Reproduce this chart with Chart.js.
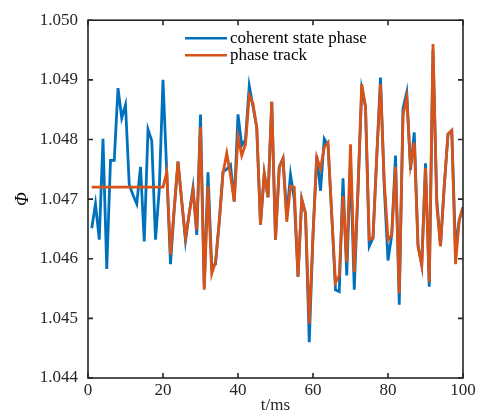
<!DOCTYPE html>
<html>
<head>
<meta charset="utf-8">
<script src="https://cdn.jsdelivr.net/npm/chart.js@4.4.1/dist/chart.umd.min.js"></script>
<style>
  html, body { margin: 0; padding: 0; background: #ffffff; }
  #wrap { width: 482px; height: 416px; }
</style>
</head>
<body>
<div id="wrap"><canvas id="c" width="482" height="416"></canvas></div>
<script>
// ---- data ----
const timeMs = [1,2,3,4,5,6,7,8,9,10,11,12,13,14,15,16,17,18,19,20,
  21,22,23,24,25,26,27,28,29,30,31,32,33,34,35,36,37,38,39,40,
  41,42,43,44,45,46,47,48,49,50,51,52,53,54,55,56,57,58,59,60,
  61,62,63,64,65,66,67,68,69,70,71,72,73,74,75,76,77,78,79,80,
  81,82,83,84,85,86,87,88,89,90,91,92,93,94,95,96,97,98,99,100];

const coherentPhase = [
  1.04651,1.04692,1.04632,1.04801,1.04583,1.04765,1.04765,1.04886,1.04836,1.04858,
  1.04724,1.04707,1.04692,1.04754,1.04629,1.04817,1.04798,1.04632,1.04716,1.04900,
  1.04745,1.04591,1.04684,1.04763,1.04696,1.04630,1.04676,1.04719,1.04640,1.04842,
  1.04552,1.04745,1.04585,1.04591,1.04662,1.04746,1.04750,1.04757,1.04696,1.04842,
  1.04790,1.04800,1.04890,1.04855,1.04820,1.04657,1.04743,1.04703,1.04863,1.04632,
  1.04754,1.04768,1.04672,1.04741,1.04700,1.04570,1.04700,1.04676,1.04460,1.04640,
  1.04773,1.04714,1.04801,1.04790,1.04673,1.04548,1.04545,1.04735,1.04572,1.04763,
  1.04548,1.04716,1.04885,1.04855,1.04621,1.04635,1.04771,1.04904,1.04720,1.04597,
  1.04640,1.04773,1.04523,1.04852,1.04879,1.04749,1.04812,1.04624,1.04589,1.04760,
  1.04553,1.04950,1.04700,1.04621,1.04722,1.04809,1.04815,1.04618,1.04665,1.04686];

const phaseTrack = [
  1.0472,1.0472,1.0472,1.0472,1.0472,1.0472,1.0472,1.0472,1.0472,1.0472,
  1.0472,1.0472,1.0472,1.0472,1.0472,1.0472,1.0472,1.0472,1.0472,1.0472,
  1.04745,1.04607,1.04684,1.04763,1.04696,1.04635,1.04676,1.04714,1.04648,1.04821,
  1.04548,1.04722,1.04575,1.04595,1.04662,1.04743,1.04777,1.04740,1.04696,1.04804,
  1.04773,1.04792,1.04874,1.04860,1.04820,1.04657,1.04743,1.04703,1.04863,1.04632,
  1.04752,1.04768,1.04662,1.04722,1.04720,1.04570,1.04700,1.04676,1.04491,1.04640,
  1.04770,1.04751,1.04787,1.04795,1.04673,1.04560,1.04572,1.04705,1.04594,1.04792,
  1.04578,1.04716,1.04893,1.04855,1.04632,1.04635,1.04771,1.04893,1.04730,1.04632,
  1.04640,1.04754,1.04542,1.04840,1.04871,1.04757,1.04795,1.04620,1.04589,1.04752,
  1.04561,1.04960,1.04690,1.04621,1.04722,1.04809,1.04815,1.04591,1.04665,1.04686];

const seriesNames = ['coherent state phase', 'phase track'];
const xTicks = [0, 20, 40, 60, 80, 100];
const yTicks = [1.044, 1.045, 1.046, 1.047, 1.048, 1.049, 1.050];
const xTitle = 't/ms';
const yTitle = 'Φ';

// ---- styling ----
const BLUE = '#0072BD';
const ORANGE = '#D95319';
const AXIS = '#262626';
const FONT = "'Liberation Serif', 'Times New Roman', serif";

function pts(ys) { return ys.map((y, i) => ({ x: timeMs[i], y: y })); }

const framePlugin = {
  id: 'frame',
  afterDraw(chart) {
    const ctx = chart.ctx;
    const a = chart.chartArea;
    const xs = chart.scales.x, ys = chart.scales.y;
    ctx.save();
    ctx.strokeStyle = AXIS;
    ctx.lineWidth = 1.6;
    ctx.strokeRect(a.left, a.top, a.right - a.left, a.bottom - a.top);
    const tl = 5;
    ctx.beginPath();
    xTicks.forEach(v => {
      const p = xs.getPixelForValue(v);
      ctx.moveTo(p, a.bottom); ctx.lineTo(p, a.bottom - tl);
      ctx.moveTo(p, a.top); ctx.lineTo(p, a.top + tl);
    });
    yTicks.forEach(v => {
      const p = ys.getPixelForValue(v);
      ctx.moveTo(a.left, p); ctx.lineTo(a.left + tl, p);
      ctx.moveTo(a.right, p); ctx.lineTo(a.right - tl, p);
    });
    ctx.stroke();

    // legend (inside the axes, upper middle)
    const lx0 = a.left + 97, lx1 = a.left + 139, tx = a.left + 142;
    const rows = [a.top + 18, a.top + 35];
    const colors = [BLUE, ORANGE];
    ctx.font = "17px " + FONT;
    ctx.textBaseline = 'middle';
    ctx.textAlign = 'left';
    rows.forEach((ry, i) => {
      ctx.strokeStyle = colors[i];
      ctx.lineWidth = 2.6;
      ctx.beginPath(); ctx.moveTo(lx0, ry); ctx.lineTo(lx1, ry); ctx.stroke();
      ctx.fillStyle = '#000';
      ctx.fillText(chart.data.datasets[i].label, tx, ry);
    });
    ctx.restore();
  }
};

new Chart(document.getElementById('c'), {
  type: 'line',
  data: {
    datasets: [
      { label: seriesNames[0], data: pts(coherentPhase), borderColor: BLUE, borderWidth: 2.8,
        pointRadius: 0, tension: 0, fill: false, order: 2 },
      { label: seriesNames[1], data: pts(phaseTrack), borderColor: ORANGE, borderWidth: 2.8,
        pointRadius: 0, tension: 0, fill: false, order: 1 }
    ]
  },
  options: {
    responsive: false,
    animation: false,
    devicePixelRatio: 1,
    layout: { padding: { top: 9, right: 19, left: 0, bottom: 0 } },
    plugins: { legend: { display: false }, tooltip: { enabled: false } },
    scales: {
      x: {
        type: 'linear', min: 0, max: 100,
        afterBuildTicks(s) { s.ticks = xTicks.map(v => ({ value: v })); },
        afterFit(s) { s.height = 38; },
        grid: { display: false, drawTicks: false },
        border: { display: false },
        ticks: { color: AXIS, font: { family: FONT, size: 17 }, padding: 2, maxRotation: 0,
                 callback: v => String(v) },
        title: { display: true, text: xTitle, color: AXIS, font: { family: FONT, size: 17 },
                 padding: { top: -2, bottom: 0 } }
      },
      y: {
        type: 'linear', min: 1.044, max: 1.050,
        afterBuildTicks(s) { s.ticks = yTicks.map(v => ({ value: v })); },
        afterFit(s) { s.width = 88; },
        grid: { display: false, drawTicks: false },
        border: { display: false },
        ticks: { color: AXIS, font: { family: FONT, size: 17 }, padding: 10,
                 callback: v => Number(v).toFixed(3) },
        title: { display: true, text: yTitle, color: '#000',
                 font: { family: FONT, size: 18, style: 'italic' }, padding: { top: 12, bottom: 0 } }
      }
    }
  },
  plugins: [framePlugin]
});
</script>
</body>
</html>
